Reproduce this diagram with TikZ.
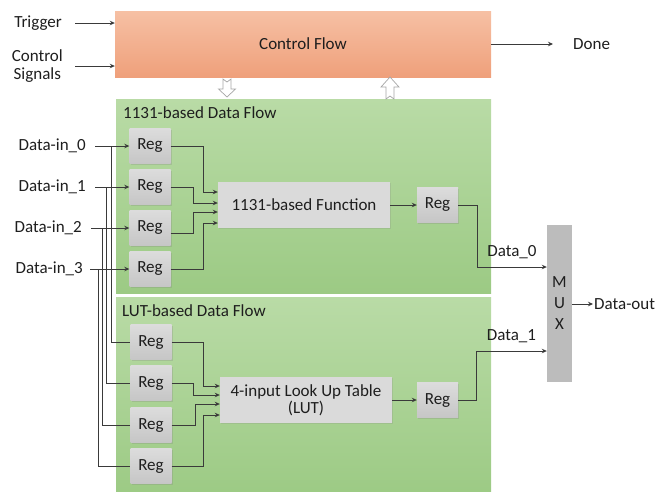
\documentclass[tikz,border=0pt]{standalone}
\usepackage{fontspec}
\setmainfont{Carlito}
\usetikzlibrary{arrows.meta,shadows}
\definecolor{ink}{HTML}{1E1E1E}
\definecolor{wirec}{HTML}{3A3A3A}
\definecolor{orangeTop}{HTML}{F6C0A4}
\definecolor{orangeBot}{HTML}{EFA07B}
\definecolor{greenTop}{HTML}{B9DBA6}
\definecolor{greenBot}{HTML}{9CCA84}
\definecolor{regTop}{HTML}{DCDCDC}
\definecolor{regBot}{HTML}{C6C6C6}
\begin{document}
\begin{tikzpicture}[x=1pt,y=-1pt,
  txt/.style={font=\fontsize{17}{20}\selectfont, text=ink, inner sep=0pt},
  wire/.style={draw=wirec, line width=0.8pt},
  arr/.style={wire, -{Stealth[length=5pt,width=4.5pt]}},
  panel/.style={draw=none, top color=greenTop, bottom color=greenBot},
  regbox/.style={txt, minimum width=41pt, minimum height=35pt,
    top color=regTop, bottom color=regBot,
    drop shadow={shadow xshift=1pt, shadow yshift=-1pt, opacity=0.25}},
  funcbox/.style={txt, align=center, minimum width=172pt, minimum height=46pt,
    fill=regTop!90!regBot,
    drop shadow={shadow xshift=1pt, shadow yshift=-1pt, opacity=0.2}},
  blockarrow/.style={draw=gray!70, fill=white, line width=0.7pt, line join=miter}
]
\useasboundingbox (0,0) rectangle (656,491);

% ---- control flow block and its signals ----
\node[txt, minimum width=376pt, minimum height=66pt,
      top color=orangeTop, bottom color=orangeBot] (ctrl) at (303,44) {Control Flow};
\node[txt, anchor=east] (trig) at (62,23) {Trigger};
\node[txt, anchor=east, align=center] (csig) at (63,66) {Control\\[-2pt]Signals};
\node[txt, anchor=west] (done) at (573,44) {Done};
\draw[arr] ([xshift=13pt]trig.east |- 0,23) -- ([yshift=21pt]ctrl.west);
\draw[arr] (75,66) -- ([yshift=-22pt]ctrl.west);
\draw[arr] (ctrl.east) -- ([xshift=-20pt]done.west);

% ---- data-flow panels ----
\node[panel, minimum width=375pt, minimum height=194pt] (dfA) at (303.5,196) {};
\node[panel, minimum width=375pt, minimum height=200pt] (dfB) at (303.5,397) {};
\node[txt, anchor=west] (dfAlbl) at (123,113) {1131-based Data Flow};
\node[txt, anchor=west] (dfBlbl) at (122,311) {LUT-based Data Flow};

% hollow block arrows between control and data flow
\draw[blockarrow] (223,79) -- (227,82) -- (231,79) -- (231,89) -- (235.5,89)
  -- (227,97) -- (218.5,89) -- (223,89) -- cycle;
\draw[blockarrow] (386,99) -- (390,96) -- (394,99) -- (394,87) -- (399,87)
  -- (390,77) -- (381,87) -- (386,87) -- cycle;

% ---- input labels ----
\node[txt, anchor=east] (din0) at (86,146) {Data-in\_0};
\node[txt, anchor=east] (din1) at (86,187) {Data-in\_1};
\node[txt, anchor=east] (din2) at (82,228) {Data-in\_2};
\node[txt, anchor=east] (din3) at (83,269) {Data-in\_3};

% ---- upper data flow ----
\node[regbox] (ra0) at (150,146) {Reg};
\node[regbox] (ra1) at (150,187) {Reg};
\node[regbox] (ra2) at (150,228) {Reg};
\node[regbox] (ra3) at (150,269) {Reg};
\node[funcbox] (fa) at (304,205) {1131-based Function};
\node[regbox] (roa) at (437.5,205) {Reg};

% ---- lower data flow ----
\node[regbox] (rb0) at (151,342) {Reg};
\node[regbox] (rb1) at (151,383) {Reg};
\node[regbox] (rb2) at (151,425) {Reg};
\node[regbox] (rb3) at (151,466) {Reg};
\node[funcbox] (fb) at (306,400) {4-input Look Up Table\\[-3pt](LUT)};
\node[regbox] (rob) at (437.5,400) {Reg};

% ---- multiplexer ----
\node[txt, align=center, minimum width=25pt, minimum height=157pt, fill=regBot!95!black,
      font=\fontsize{17}{21}\selectfont] (mux) at (559.5,303.5) {M\\U\\X};
\node[txt, anchor=west] (dout) at (594,304) {Data-out};

% ---- inputs into the registers ----
\draw[arr] ([xshift=9pt]din0.east) -- (ra0.west);
\draw[arr] ([xshift=9pt]din1.east) -- (ra1.west);
\draw[arr] ([xshift=9pt]din2.east) -- (ra2.west);
\draw[arr] ([xshift=7pt]din3.east) -- (ra3.west);

% taps from the input lines down to the LUT registers
\coordinate (tap0) at (111,146);
\coordinate (tap1) at (106,187);
\coordinate (tap2) at (102,228);
\coordinate (tap3) at (98,269);
\draw[wire] (tap0) |- (rb0.west);
\draw[wire] (tap1) |- (rb1.west);
\draw[wire] (tap2) |- (rb2.west);
\draw[wire] (tap3) |- (rb3.west);

% registers into the 1131-based function
\draw[arr] (ra0.east) -- (203,146) |- ([yshift=13pt]fa.west);
\draw[arr] (ra1.east) -- (193,187) |- ([yshift=2pt]fa.west);
\draw[arr] ([yshift=-5pt]ra2.east) -- (193,233) |- ([yshift=-7pt]fa.west);
\draw[arr] (ra3.east) -- (203,269) |- ([yshift=-18pt]fa.west);

% registers into the look-up table
\draw[arr] (rb0.east) -- (203,342) |- ([yshift=14pt]fb.west);
\draw[arr] (rb1.east) -- (193,383) |- ([yshift=5pt]fb.west);
\draw[arr] (rb2.east) -- (195,425) |- ([yshift=-4pt]fb.west);
\draw[arr] (rb3.east) -- (203,466) |- ([yshift=-15pt]fb.west);

% function outputs through their registers to the multiplexer
\draw[arr] (fa.east) -- (roa.west);
\draw[arr] (fb.east) -- (rob.west);
\draw[arr] (roa.east) -- (477,205) |- ([yshift=36.5pt]mux.west)
  node[txt, pos=0.75, above=8pt] (d0) {Data\_0};
\draw[arr] (rob.east) -- (476,400) |- ([yshift=-47.5pt]mux.west)
  node[txt, pos=0.75, above=8pt] (d1) {Data\_1};
\draw[arr] (mux.east |- dout.west) -- ([xshift=-1pt]dout.west);
\end{tikzpicture}
\end{document}
